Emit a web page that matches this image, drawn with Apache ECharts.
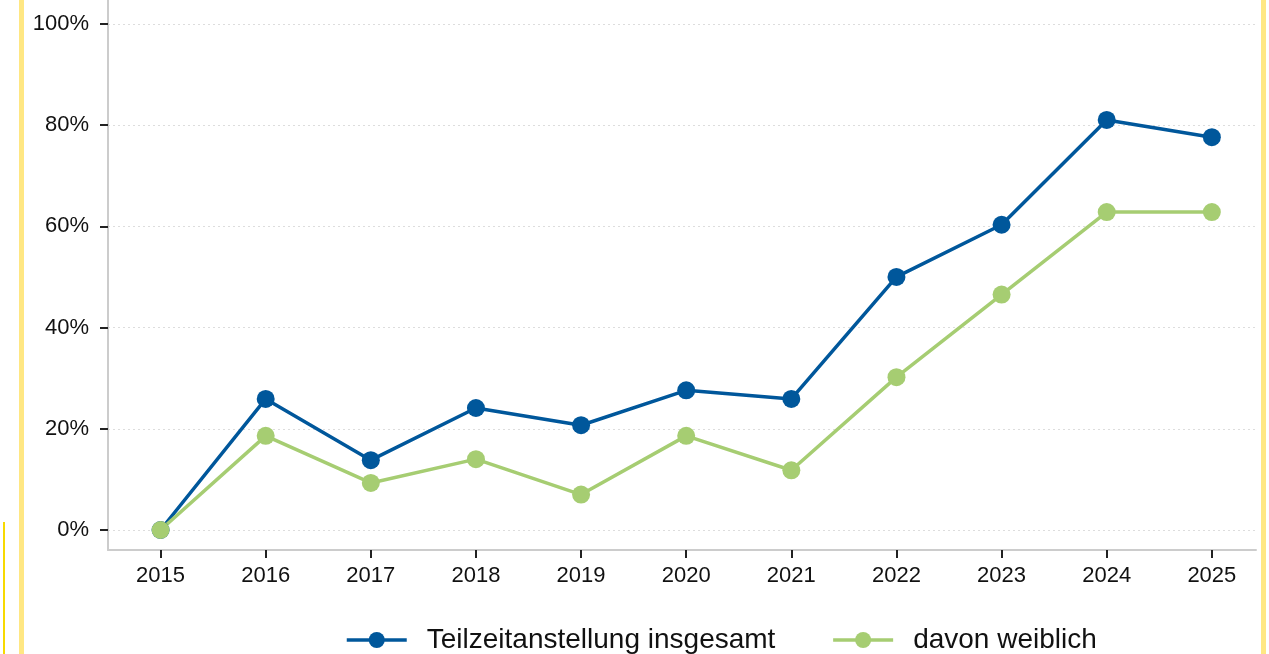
<!DOCTYPE html>
<html>
<head>
<meta charset="utf-8">
<title>Teilzeitanstellung</title>
<script src="https://cdn.jsdelivr.net/npm/echarts@6/dist/echarts.min.js"></script>
<style>
    html, body { margin: 0; padding: 0; background: #fff; }
    #chart { width: 1269px; height: 654px; }
</style>
</head>
<body>
<div id="chart"></div>
<script>
var years = [2015, 2016, 2017, 2018, 2019, 2020, 2021, 2022, 2023, 2024, 2025];
var insgesamt = [0, 25.9, 13.8, 24.1, 20.7, 27.6, 25.9, 50.0, 60.3, 81.0, 77.6];
var weiblich = [0, 18.6, 9.3, 14.0, 7.0, 18.6, 11.8, 30.2, 46.5, 62.8, 62.8];
var yTicks = [0, 20, 40, 60, 80, 100];
var seriesNames = ['Teilzeitanstellung insgesamt', 'davon weiblich'];

(function (window, document) {
    'use strict';
    var chartDom = document.getElementById('chart');
    var myChart = echarts.init(chartDom, null, { renderer: 'canvas' });
    var font = '"Liberation Sans", Arial, sans-serif';
    var blue = '#00579b';
    var green = '#a6cd72';

    function pairs(values) {
        return values.map(function (v, i) { return [years[i], v]; });
    }

    function lineSeries(name, values, color) {
        return {
            name: name,
            type: 'line',
            data: pairs(values),
            symbol: 'circle',
            symbolSize: 18,
            lineStyle: { color: color, width: 3.5 },
            itemStyle: { color: color },
            emphasis: { disabled: true }
        };
    }

    var option = {
        animation: false,
        textStyle: { fontFamily: font },
        grid: { left: 108, right: 13, top: 0, bottom: 104 },
        xAxis: {
            type: 'value',
            min: 2014.5,
            max: 2025.42,
            axisLine: { onZero: false, lineStyle: { color: '#cccccc', width: 2 } },
            axisTick: { customValues: years, length: 8, lineStyle: { color: '#222', width: 2 } },
            axisLabel: {
                customValues: years,
                fontSize: 22,
                color: '#111',
                margin: 15,
                fontFamily: font,
                formatter: function (v) { return String(v); }
            },
            splitLine: { show: false }
        },
        yAxis: {
            type: 'value',
            min: -3.95,
            max: 104.7,
            axisLine: { show: true, onZero: false, lineStyle: { color: '#cccccc', width: 2 } },
            axisTick: { show: true, customValues: yTicks, length: 8, lineStyle: { color: '#222', width: 2 } },
            axisLabel: {
                customValues: yTicks,
                fontSize: 22,
                color: '#111',
                margin: 19,
                fontFamily: font,
                formatter: function (v) { return v + '%'; }
            },
            splitLine: {
                show: true,
                lineStyle: { color: '#dddddd', width: 1, type: [2, 3] }
            }
        },
        legend: {
            left: 340,
            top: 621,
            itemWidth: 60,
            itemHeight: 20,
            itemGap: 56,
            lineStyle: { width: 3.5 },
            textStyle: { fontSize: 28, color: '#111', fontFamily: font, padding: [0, 0, 0, 15] },
            data: seriesNames
        },
        graphic: [
            { type: 'rect', left: 19, top: 0, shape: { width: 5, height: 654 }, style: { fill: '#ffe783' }, silent: true },
            { type: 'rect', left: 3, top: 522, shape: { width: 2, height: 132 }, style: { fill: '#f7d900' }, silent: true },
            { type: 'rect', left: 1261, top: 0, shape: { width: 5, height: 654 }, style: { fill: '#ffe783' }, silent: true }
        ],
        series: [
            lineSeries(seriesNames[0], insgesamt, blue),
            lineSeries(seriesNames[1], weiblich, green)
        ]
    };

    myChart.setOption(option);
})(window, document);
</script>
</body>
</html>
